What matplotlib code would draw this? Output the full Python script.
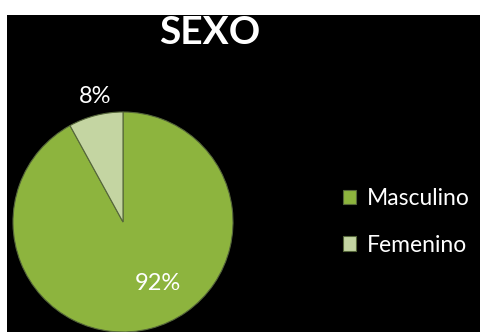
import numpy as np
import matplotlib
matplotlib.use("Agg")
import matplotlib.pyplot as plt

# Datos del gráfico
categorias = ["Masculino", "Femenino"]
valores = [92, 8]
colores = ["#8db43e", "#c4d5a2"]

plt.rcParams['font.family'] = ['Lato', 'DejaVu Sans']

fig = plt.figure(figsize=(4.8, 3.32), dpi=100)
fig.patch.set_facecolor("white")

# zona negra (en pixeles: x 7..480, y 15..332)
ax = fig.add_axes([7 / 480, 0, 473 / 480, 317 / 332])
ax.set_facecolor("black")

centro = (123, 110)
radio = 110
wedges, _ = ax.pie(valores, colors=colores, startangle=90, counterclock=False,
                   center=centro, radius=radio, frame=True,
                   wedgeprops=dict(edgecolor="#55663a", linewidth=0.8))
ax.set_xlim(7, 480)
ax.set_ylim(0, 317)
ax.set_xticks([])
ax.set_yticks([])
ax.set_aspect("auto")
for s in ax.spines.values():
    s.set_visible(False)

# etiquetas de porcentaje
distancias = [0.64, 1.17]
desvio_ang = [15, -2]
for w, v, d, da in zip(wedges, valores, distancias, desvio_ang):
    ang = np.deg2rad((w.theta1 + w.theta2) / 2 + da)
    x = centro[0] + d * radio * np.cos(ang)
    y = centro[1] + d * radio * np.sin(ang)
    ax.text(x, y, f"{v}%", color="white", fontsize=17, ha="center", va="center")

fig.text(210 / 480, 1 - 32 / 332, "SEXO", color="white", fontsize=28,
         fontweight="bold", ha="center", va="center")

leg = fig.legend(wedges, categorias, loc="center left",
                 bbox_to_anchor=(343 / 480, 1 - 222 / 332), frameon=False,
                 borderpad=0, borderaxespad=0,
                 fontsize=16.5, labelcolor="white", handlelength=0.58,
                 handleheight=0.58, handletextpad=0.45, labelspacing=1.1)

fig.savefig("out.png", dpi=100, facecolor=fig.get_facecolor())
